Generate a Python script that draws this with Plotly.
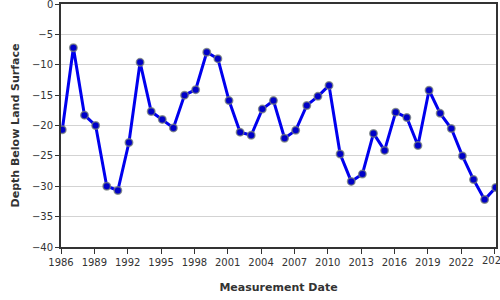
import plotly.graph_objects as go

years = list(range(1986, 2026))
depth = [-20.7, -7.2, -18.3, -20.0, -30.0, -30.7, -22.8, -9.6, -17.7, -19.0,
         -20.4, -15.0, -14.1, -7.95, -9.0, -15.9, -21.1, -21.6, -17.3, -15.9,
         -22.1, -20.8, -16.7, -15.2, -13.4, -24.7, -29.2, -28.0, -21.3, -24.1,
         -17.8, -18.7, -23.3, -14.2, -18.0, -20.5, -25.0, -28.9, -32.2, -30.2]
dates = [f"{y}-02-12" for y in years]
x_title = "Measurement Date"
y_title = "Depth Below Land Surface"
x_ticks = [f"{y}-01-01" for y in range(1986, 2026, 3)]
x_ticklabels = [str(y) for y in range(1986, 2026, 3)]

fig = go.Figure()
fig.add_trace(go.Scatter(
    x=dates, y=depth, mode="lines+markers",
    line=dict(color="#0000ee", width=3),
    marker=dict(color="#0000c8", size=7.5,
                line=dict(color="rgba(120,130,120,0.75)", width=1.5)),
    showlegend=False,
))

font = "DejaVu Sans, Verdana, sans-serif"
fig.update_layout(
    width=500, height=300,
    margin=dict(l=61, r=4, t=4, b=53, autoexpand=False),
    paper_bgcolor="white", plot_bgcolor="white",
    font=dict(family=font, size=10, color="#333"),
    xaxis=dict(
        range=["1986-01-01", "2025-02-20"], automargin=False,
        tickmode="array", tickvals=x_ticks, ticktext=x_ticklabels,
        ticks="outside", ticklen=5, tickcolor="#333", tickwidth=1,
        showgrid=False, showline=True, linecolor="#333", linewidth=2, mirror=True,
        title=dict(text="<b>" + x_title + "</b>", font=dict(size=11, color="#333"), standoff=16),
        zeroline=False,
    ),
    yaxis=dict(
        range=[-40, 0], dtick=5, automargin=False,
        ticks="outside", ticklen=4, tickcolor="#333",
        showgrid=True, gridcolor="#d3d3d3", gridwidth=1,
        showline=True, linecolor="#333", linewidth=2, mirror=True,
        title=dict(text="<b>" + y_title + "</b>", font=dict(size=11, color="#333"), standoff=10),
        zeroline=False,
    ),
)
fig.add_annotation(x="2025-01-01", y=0, yref="paper", yshift=-6, yanchor="top",
                   text="2025", showarrow=False, font=dict(size=10, color="#333"))
fig.add_annotation(x=0, xref="paper", y=0, xanchor="right", xshift=-6,
                   text="0", showarrow=False, font=dict(size=10, color="#333"))
fig.write_html("out.html")
